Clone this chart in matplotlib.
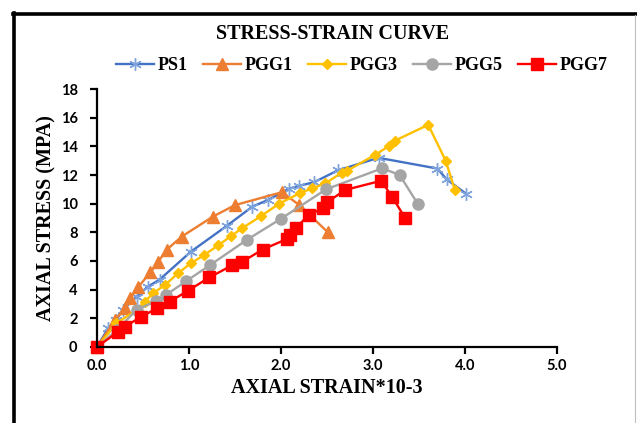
import matplotlib
matplotlib.use("Agg")
import matplotlib.pyplot as plt
from matplotlib.lines import Line2D

# ---- data ----
ps1_x = [0, 0.12, 0.21, 0.28, 0.43, 0.55, 0.68, 1.02, 1.41, 1.69, 1.86, 2.09, 2.20, 2.36, 2.62, 3.06, 3.70, 3.80, 4.01]
ps1_y = [0, 1.3, 1.9, 2.6, 3.5, 4.2, 4.7, 6.65, 8.45, 9.8, 10.26, 11.05, 11.25, 11.5, 12.33, 13.2, 12.45, 11.7, 10.7]

pgg1_x = [0, 0.20, 0.30, 0.36, 0.45, 0.58, 0.66, 0.76, 0.92, 1.26, 1.50, 2.01, 2.20, 2.51]
pgg1_y = [0, 1.9, 2.7, 3.4, 4.2, 5.2, 5.9, 6.8, 7.7, 9.1, 9.9, 10.8, 9.9, 8.0]

pgg3_x = [0, 0.21, 0.43, 0.52, 0.61, 0.74, 0.88, 1.02, 1.16, 1.32, 1.46, 1.58, 1.78, 1.98, 2.21, 2.34, 2.48, 2.66, 2.72, 3.02, 3.17, 3.24, 3.60, 3.79, 3.89]
pgg3_y = [0, 1.65, 2.58, 3.16, 3.75, 4.33, 5.14, 5.84, 6.4, 7.1, 7.75, 8.3, 9.12, 10.0, 10.75, 11.07, 11.41, 12.16, 12.3, 13.4, 14.0, 14.4, 15.5, 13.0, 10.96]

pgg5_x = [0, 0.22, 0.43, 0.645, 0.75, 0.97, 1.23, 1.63, 2.00, 2.49, 3.10, 3.29, 3.49]
pgg5_y = [0, 1.2, 2.6, 3.2, 3.63, 4.6, 5.72, 7.48, 8.95, 11.0, 12.47, 12.0, 9.95]

pgg7_x = [0, 0.23, 0.30, 0.48, 0.65, 0.79, 0.99, 1.22, 1.47, 1.58, 1.80, 2.07, 2.10, 2.16, 2.30, 2.46, 2.50, 2.70, 3.09, 3.21, 3.35]
pgg7_y = [0, 1.07, 1.42, 2.1, 2.7, 3.16, 3.93, 4.85, 5.7, 5.95, 6.8, 7.55, 7.8, 8.3, 9.2, 9.7, 10.1, 10.96, 11.6, 10.45, 9.0]

x_ticks = [0.0, 1.0, 2.0, 3.0, 4.0, 5.0]
y_ticks = [0, 2, 4, 6, 8, 10, 12, 14, 16, 18]

title = "STRESS-STRAIN CURVE"
xlabel = "AXIAL STRAIN*10-3"
ylabel = "AXIAL STRESS (MPA)"

W, H = 637, 423
fig = plt.figure(figsize=(W / 100, H / 100), dpi=100)
ax = fig.add_axes([97 / W, 1 - 347 / H, (557 - 97) / W, (347 - 89) / H])

serif = "Liberation Serif"
sans = "Lato"

series = [
    ("PS1", ps1_x, ps1_y, "#4472C4", dict(marker=(6, 2, 0), markersize=9, markeredgecolor="#7FA3DC", markerfacecolor="#7FA3DC", markeredgewidth=1.0)),
    ("PGG1", pgg1_x, pgg1_y, "#ED7D31", dict(marker="^", markersize=8, markeredgecolor="#ED7D31", markerfacecolor="#ED7D31")),
    ("PGG3", pgg3_x, pgg3_y, "#FFC000", dict(marker="D", markersize=5.5, markeredgecolor="#FFC000", markerfacecolor="#FFC000")),
    ("PGG5", pgg5_x, pgg5_y, "#A5A5A5", dict(marker="o", markersize=8, markeredgecolor="#A5A5A5", markerfacecolor="#A5A5A5")),
    ("PGG7", pgg7_x, pgg7_y, "#FF0000", dict(marker="s", markersize=8, markeredgecolor="#FF0000", markerfacecolor="#FF0000")),
]

handles = []
for name, xs, ys, col, mk in series:
    ax.plot(xs, ys, color=col, linewidth=1.7, clip_on=False, **mk)
    handles.append(Line2D([], [], color=col, linewidth=1.7, **mk))

ax.set_xlim(0, 5)
ax.set_ylim(0, 18)
ax.set_xticks(x_ticks)
ax.set_xticklabels([f"{v:.1f}" for v in x_ticks], fontfamily=sans, fontweight="bold", fontsize=10.5)
ax.set_yticks(y_ticks)
ax.set_yticklabels([str(v) for v in y_ticks], fontfamily=sans, fontweight="bold", fontsize=10.5)
for s in ["top", "right"]:
    ax.spines[s].set_visible(False)
for s in ["left", "bottom"]:
    ax.spines[s].set_linewidth(1.6)
    ax.spines[s].set_color("black")
ax.tick_params(axis="both", direction="out", length=5, width=1.6, colors="black", pad=4)
ax.tick_params(axis="y", pad=9)

ax.set_xlabel(xlabel, fontfamily=serif, fontweight="bold", fontsize=14.5, labelpad=3)
ax.set_ylabel(ylabel, fontfamily=serif, fontweight="bold", fontsize=14.5, labelpad=3)

fig.text(333 / W, 1 - 34 / H, title, ha="center", va="center", fontfamily=serif, fontweight="bold", fontsize=14.5)

leg = fig.legend(handles, [s[0] for s in series], loc="center", bbox_to_anchor=(362 / W, 1 - 66 / H),
                 ncol=5, frameon=False, prop=dict(family=serif, weight="bold", size=13),
                 handlelength=2.1, handletextpad=0.2, columnspacing=0.85)

# outer frame
fig.add_artist(Line2D([13.5 / W, 13.5 / W], [0, 1 - 13 / H], transform=fig.transFigure, color="black", linewidth=2.6))
fig.add_artist(Line2D([12.5 / W, 1], [1 - 14.5 / H, 1 - 14.5 / H], transform=fig.transFigure, color="black", linewidth=2.6))
fig.add_artist(Line2D([634.5 / W, 634.5 / W], [0, 1 - 15 / H], transform=fig.transFigure, color="#BFBFBF", linewidth=0.8))

fig.savefig("out.png", dpi=100)
